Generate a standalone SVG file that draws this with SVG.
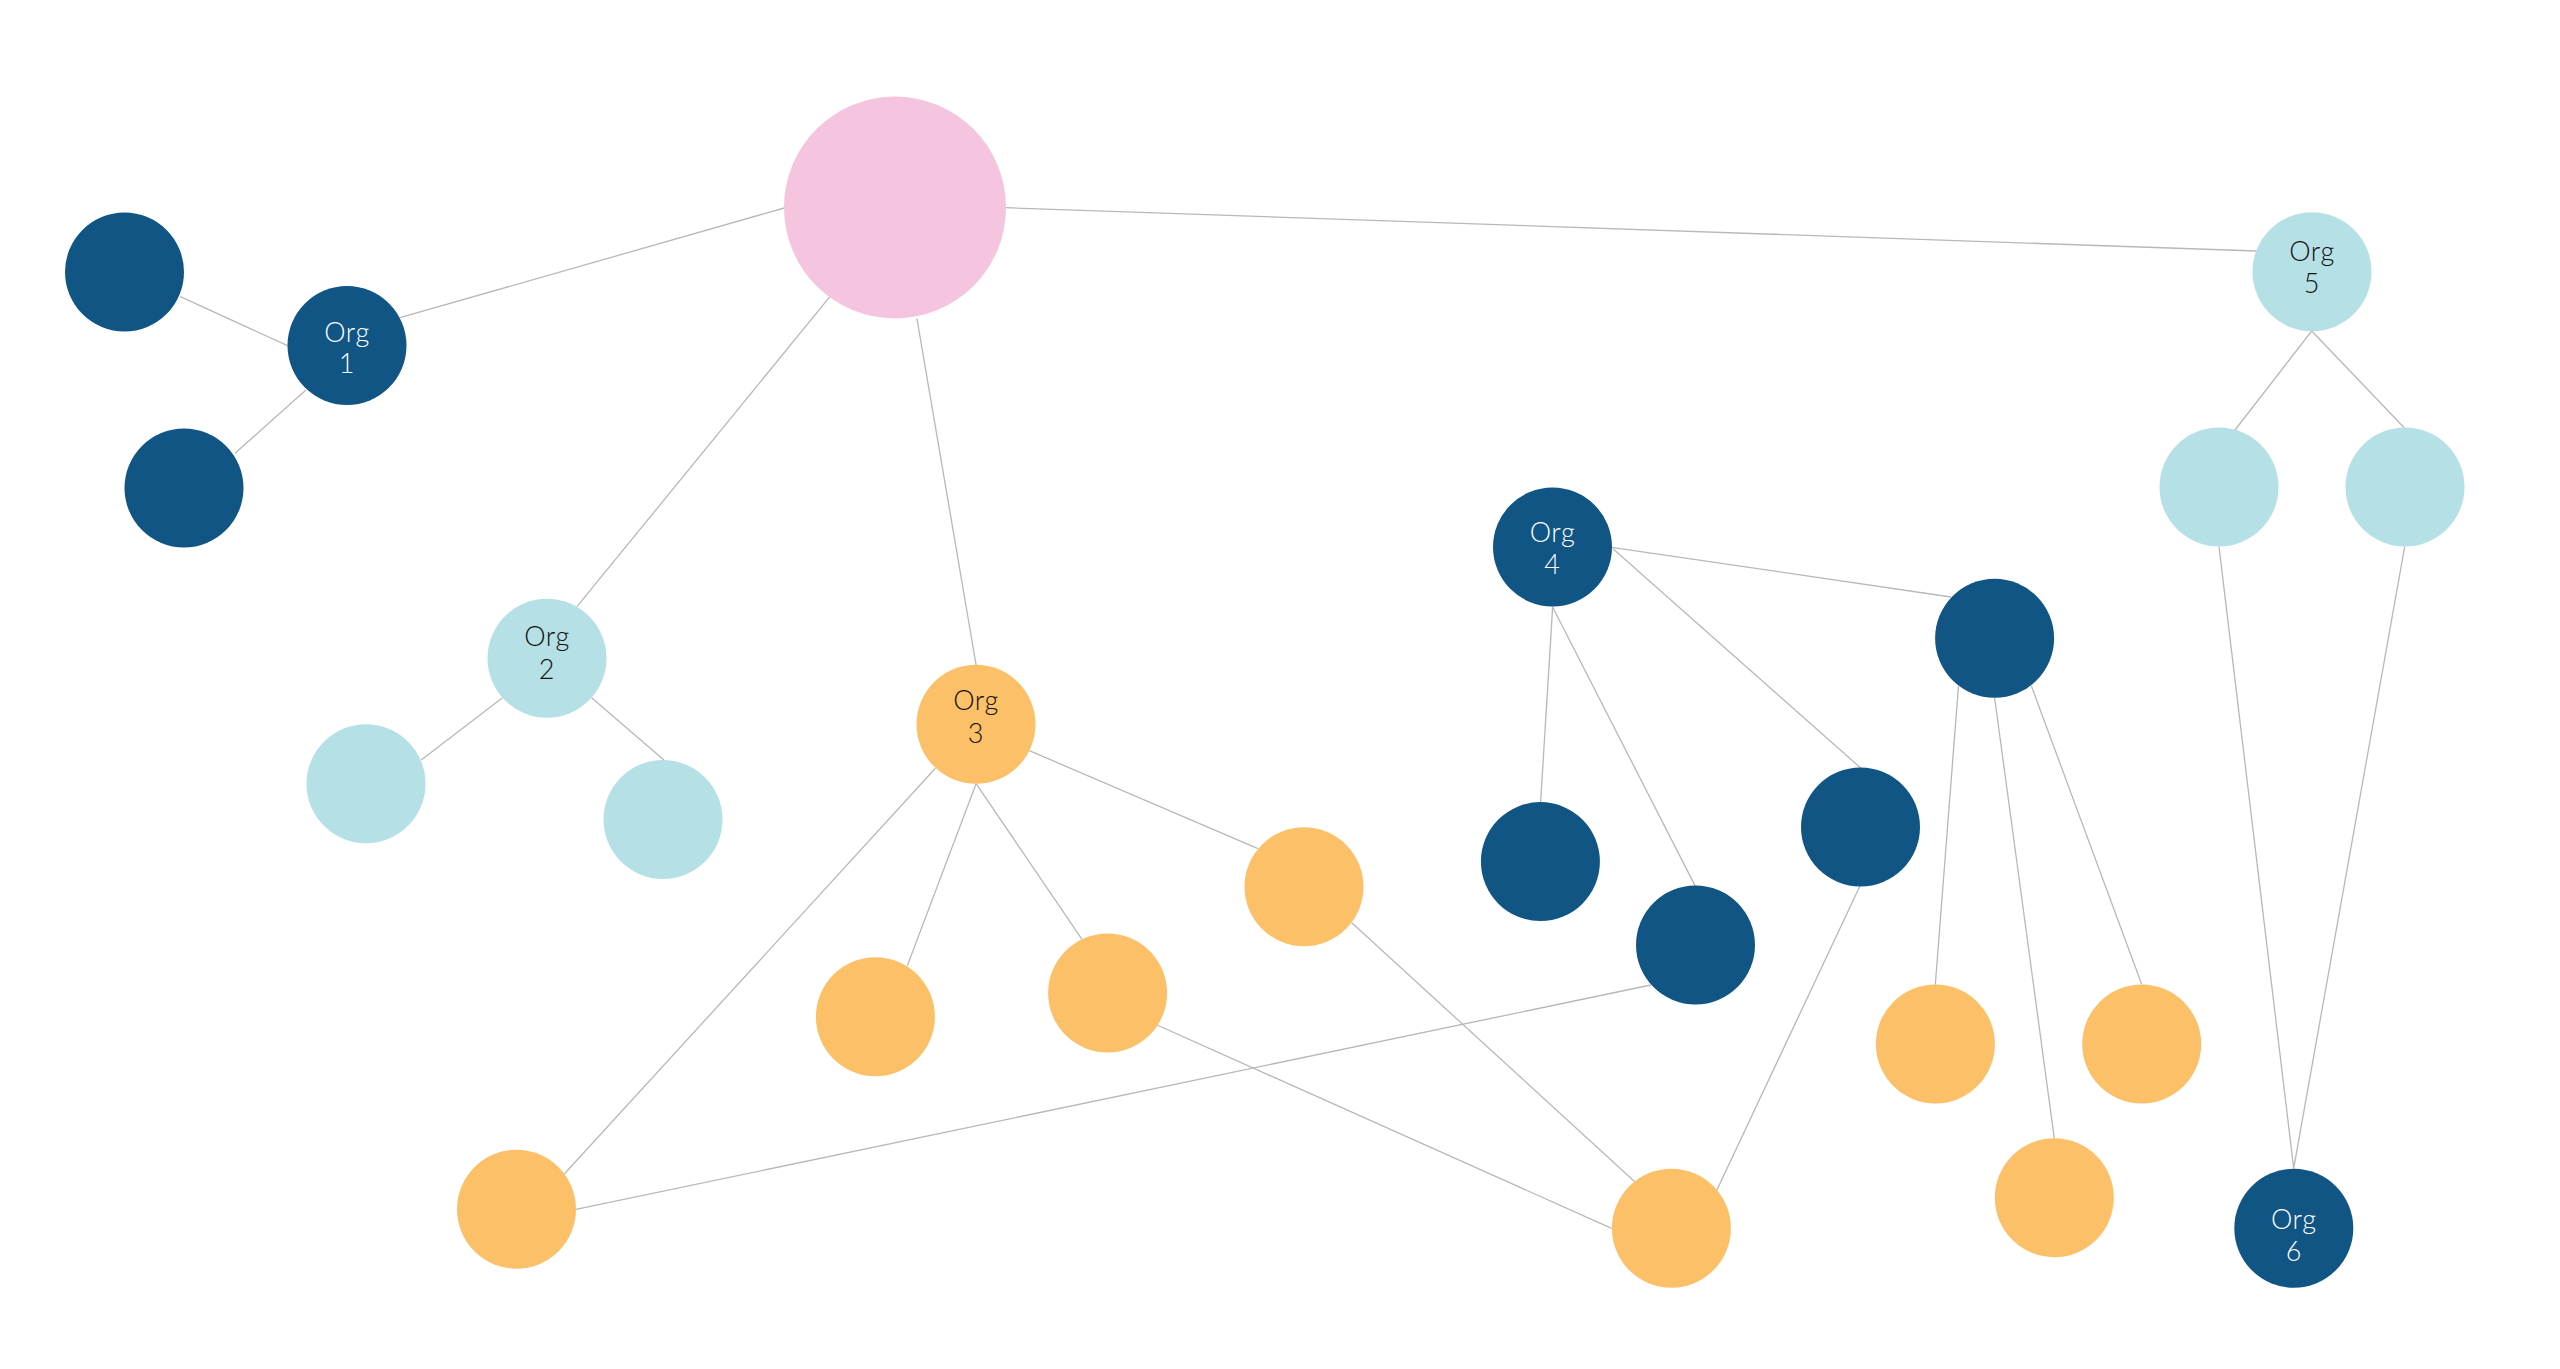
<svg xmlns="http://www.w3.org/2000/svg" width="2560" height="1369" viewBox="0 0 2560 1369">
<style>
.e{stroke:#b8b8b8;stroke-width:1.3;fill:none}
.dk{fill:#105584}
.lt{fill:#b5e0e6}
.or{fill:#fcc068}
.pk{fill:#f5c4de}
.t{font-family:Lato,"Open Sans",sans-serif;font-size:27px;font-weight:300;letter-spacing:0.6px;text-anchor:middle}
.w{fill:#ffffff}
.b{fill:#111111}
</style>
<rect width="2560" height="1369" fill="#ffffff"/>
<g id="connectors">
<line class="e" x1="180.3" y1="296.7" x2="287.6" y2="345.7"/>
<line class="e" x1="235" y1="453.3" x2="305.9" y2="390"/>
<line class="e" x1="399.9" y1="317.7" x2="784.3" y2="208"/>
<line class="e" x1="1005.3" y1="207.7" x2="2256.7" y2="251"/>
<line class="e" x1="829.9" y1="296.7" x2="576.9" y2="606.7"/>
<line class="e" x1="916.9" y1="318.3" x2="976.1" y2="665"/>
<line class="e" x1="2311.7" y1="331" x2="2235" y2="430"/>
<line class="e" x1="2311.7" y1="331" x2="2404.7" y2="428.3"/>
<line class="e" x1="2219" y1="546.7" x2="2293.7" y2="1168.3"/>
<line class="e" x1="2404.7" y1="546.7" x2="2293.7" y2="1168.3"/>
<line class="e" x1="502.5" y1="697.7" x2="421.2" y2="760"/>
<line class="e" x1="591.6" y1="697.7" x2="663.9" y2="760"/>
<line class="e" x1="935.4" y1="768.3" x2="564.3" y2="1174"/>
<line class="e" x1="976.1" y1="783.7" x2="907.3" y2="965.7"/>
<line class="e" x1="976.1" y1="783.7" x2="1082" y2="939.3"/>
<line class="e" x1="1029.4" y1="750.7" x2="1258" y2="848.7"/>
<line class="e" x1="1157" y1="1025" x2="1611.6" y2="1228.3"/>
<line class="e" x1="1351.5" y1="922.6" x2="1634.8" y2="1181.7"/>
<line class="e" x1="1611.6" y1="547.3" x2="1950.9" y2="597"/>
<line class="e" x1="1613" y1="548.8" x2="1860.7" y2="768"/>
<line class="e" x1="1552.7" y1="606.6" x2="1540.6" y2="802"/>
<line class="e" x1="1552.7" y1="607.3" x2="1695" y2="885.6"/>
<line class="e" x1="1859.8" y1="886.3" x2="1716.9" y2="1190"/>
<line class="e" x1="1650.9" y1="985" x2="575.9" y2="1209.3"/>
<line class="e" x1="1958.5" y1="685.8" x2="1935.3" y2="984.7"/>
<line class="e" x1="1994.6" y1="697.7" x2="2054.3" y2="1138.3"/>
<line class="e" x1="2031.3" y1="685.8" x2="2141.7" y2="984.3"/>
</g>
<g id="root"><circle class="pk" cx="895" cy="207.5" r="111"/></g>
<g id="n-tl"><circle class="dk" cx="124.5" cy="272" r="59.5"/></g>
<g id="org1"><circle class="dk" cx="347" cy="345.5" r="59.5"/><text class="t w" x="347" y="341.5">Org</text><text class="t w" x="347" y="372.5">1</text></g>
<g id="n-bl"><circle class="dk" cx="184" cy="488" r="59.5"/></g>
<g id="org5"><circle class="lt" cx="2312" cy="271.7" r="59.5"/><text class="t b" x="2312" y="260.7">Org</text><text class="t b" x="2312" y="293.3">5</text></g>
<g id="n5a"><circle class="lt" cx="2219" cy="487" r="59.5"/></g>
<g id="n5b"><circle class="lt" cx="2405" cy="487" r="59.5"/></g>
<g id="org4"><circle class="dk" cx="1552.5" cy="547" r="59.5"/><text class="t w" x="1552.5" y="541.5">Org</text><text class="t w" x="1552.5" y="573.7">4</text></g>
<g id="n4r"><circle class="dk" cx="1994.6" cy="638.3" r="59.5"/></g>
<g id="org2"><circle class="lt" cx="547" cy="658.3" r="59.5"/><text class="t b" x="547" y="646">Org</text><text class="t b" x="547" y="679">2</text></g>
<g id="org3"><circle class="or" cx="976" cy="724.3" r="59.5"/><text class="t b" x="976" y="710">Org</text><text class="t b" x="976" y="743.3">3</text></g>
<g id="n2a"><circle class="lt" cx="366" cy="783.7" r="59.5"/></g>
<g id="n2b"><circle class="lt" cx="663" cy="819.5" r="59.5"/></g>
<g id="n3d"><circle class="or" cx="1304" cy="886.7" r="59.5"/></g>
<g id="n4a"><circle class="dk" cx="1540.4" cy="861.6" r="59.5"/></g>
<g id="n4c"><circle class="dk" cx="1860.5" cy="827" r="59.5"/></g>
<g id="n4b"><circle class="dk" cx="1695.5" cy="945" r="59.5"/></g>
<g id="n3a"><circle class="or" cx="875.4" cy="1016.7" r="59.5"/></g>
<g id="n3b"><circle class="or" cx="1107.6" cy="993" r="59.5"/></g>
<g id="nra"><circle class="or" cx="1935.4" cy="1044" r="59.5"/></g>
<g id="nrc"><circle class="or" cx="2141.7" cy="1044" r="59.5"/></g>
<g id="n3c"><circle class="or" cx="516.5" cy="1209.2" r="59.5"/></g>
<g id="nx"><circle class="or" cx="1671.4" cy="1228.3" r="59.5"/></g>
<g id="nrb"><circle class="or" cx="2054.3" cy="1197.7" r="59.5"/></g>
<g id="org6"><circle class="dk" cx="2293.8" cy="1228.3" r="59.5"/><text class="t w" x="2293.8" y="1229.3">Org</text><text class="t w" x="2293.8" y="1261">6</text></g>
</svg>
